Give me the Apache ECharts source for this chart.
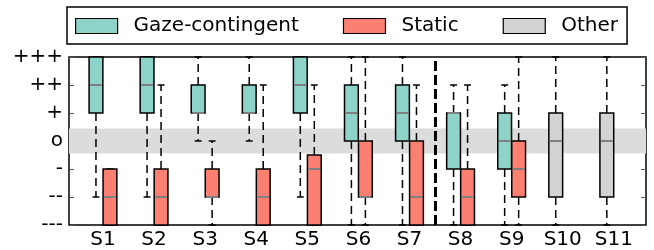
<!DOCTYPE html>
<html style="height: 100%">
<head>
    <meta charset="UTF-8">
    <title>Boxplot ratings</title>
    <script src="https://cdn.jsdelivr.net/npm/echarts@6/dist/echarts.min.js"></script>
</head>
<body style="height: 100%; margin: 0; background: #fff">
    <div id="main" style="width: 654px; height: 250px"></div>
    <script type="text/javascript">
        // categories and rating levels (-3 .. 3)
        var categories = ['S1', 'S2', 'S3', 'S4', 'S5', 'S6', 'S7', 'S8', 'S9', 'S10', 'S11'];
        var levelLabels = ['---', '--', '-', 'o', '+', '++', '+++'];

        // [x, min, q1, median, q3, max]
        var gazeStats = [
            [1, -2, 1, 2, 3, 3],
            [2, -2, 1, 2, 3, 3],
            [3, 0, 1, 1, 2, 3],
            [4, 0, 1, 1, 2, 3],
            [5, -2, 1, 2, 3, 3],
            [6, -3, 0, 1, 2, 3],
            [7, -3, 0, 1, 2, 3],
            [8, -3, -1, 1, 1, 2],
            [9, -3, -1, 0, 1, 2]
        ];
        var staticStats = [
            [1, -3, -3, -2, -1, -1],
            [2, -3, -3, -2, -1, 2],
            [3, -3, -2, -2, -1, 0],
            [4, -3, -3, -2, -1, 2],
            [5, -3, -3, -1, -0.5, 2],
            [6, -3, -2, -2, 0, 3],
            [7, -3, -3, -2, 0, 2],
            [8, -3, -3, -2, -1, 2],
            [9, -3, -2, -1, 0, 3]
        ];
        var otherStats = [
            [10, -3, -2, 0, 1, 3],
            [11, -3, -2, 0, 1, 3]
        ];

        var myChart = echarts.init(document.getElementById('main'));

        // draws one box: dashed whiskers, caps, box, median
        function makeRender(offset) {
            return function (params, api) {
                var x = api.value(0) + offset;
                var vMin = api.value(1), q1 = api.value(2), med = api.value(3),
                    q3 = api.value(4), vMax = api.value(5);
                var pLow = api.coord([x, q1]);
                var pHigh = api.coord([x, q3]);
                var pMin = api.coord([x, vMin]);
                var pMax = api.coord([x, vMax]);
                var pMed = api.coord([x, med]);
                var w = api.size([0.27, 0])[0];
                var cap = w / 4;
                var cx = pLow[0];
                var kids = [];
                var dash = { stroke: '#000', lineWidth: 1.5, lineDash: [8, 5] };
                var solid = { stroke: '#000', lineWidth: 1.5 };
                if (vMax > q3) {
                    kids.push({ type: 'line', shape: { x1: cx, y1: pHigh[1], x2: cx, y2: pMax[1] }, style: dash });
                }
                if (vMin < q1) {
                    kids.push({ type: 'line', shape: { x1: cx, y1: pLow[1], x2: cx, y2: pMin[1] }, style: dash });
                }
                kids.push({ type: 'line', shape: { x1: cx - cap, y1: pMax[1], x2: cx + cap, y2: pMax[1] }, style: solid });
                kids.push({ type: 'line', shape: { x1: cx - cap, y1: pMin[1], x2: cx + cap, y2: pMin[1] }, style: solid });
                kids.push({
                    type: 'rect',
                    shape: { x: cx - w / 2, y: pHigh[1], width: w, height: pLow[1] - pHigh[1] },
                    style: { fill: api.visual('color'), stroke: '#000', lineWidth: 1.5 }
                });
                kids.push({
                    type: 'line',
                    shape: { x1: cx - w / 2 + 1, y1: pMed[1], x2: cx + w / 2 - 1, y2: pMed[1] },
                    style: { stroke: '#808080', lineWidth: 2 }
                });
                return { type: 'group', children: kids };
            };
        }

        var font = 'DejaVu Sans';

        var option = {
            animation: false,
            backgroundColor: '#fff',
            legend: {
                data: ['Gaze-contingent', 'Static', 'Other'],
                left: 67,
                top: 7,
                padding: [9, 9, 8, 8],
                itemWidth: 42,
                itemHeight: 15,
                itemGap: 44,
                borderColor: '#000',
                borderWidth: 1.5,
                borderRadius: 0,
                icon: 'rect',
                itemStyle: { borderColor: '#000', borderWidth: 1.2 },
                textStyle: { fontSize: 20, fontFamily: font, color: '#000', padding: [0, 0, 0, 11] }
            },
            grid: {
                left: 69, right: 8, top: 57, bottom: 25,
                show: true, borderColor: '#000', borderWidth: 1.5, backgroundColor: 'transparent'
            },
            xAxis: {
                type: 'value',
                min: 0.335,
                max: 11.63,
                axisLine: { show: false },
                axisTick: { show: false },
                splitLine: { show: false },
                axisLabel: {
                    customValues: [1, 2, 3, 4, 5, 6, 7, 8, 9, 10, 11],
                    formatter: function (v) { return categories[Math.round(v) - 1]; },
                    fontSize: 20, fontFamily: font, color: '#000', margin: 5
                }
            },
            yAxis: [{
                type: 'value',
                min: -3,
                max: 3,
                interval: 1,
                axisLine: { show: false },
                axisTick: { show: true, inside: true, length: 5, lineStyle: { color: '#555' } },
                splitLine: { show: false },
                axisLabel: {
                    formatter: function (v) { return levelLabels[v + 3]; },
                    fontSize: 20, fontFamily: font, color: '#000', margin: 6
                }
            }, {
                type: 'value',
                position: 'right',
                min: -3,
                max: 3,
                interval: 1,
                axisLine: { show: false },
                axisTick: { show: true, inside: true, length: 5, lineStyle: { color: '#555' } },
                splitLine: { show: false },
                axisLabel: { show: false }
            }],
            series: [{
                name: 'band',
                type: 'line',
                data: [],
                z: 1,
                silent: true,
                markArea: {
                    silent: true,
                    itemStyle: { color: '#dcdcdc' },
                    data: [[{ yAxis: -0.45 }, { yAxis: 0.45 }]]
                }
            }, {
                name: 'Gaze-contingent',
                type: 'custom',
                z: 3,
                itemStyle: { color: '#8dd3c7' },
                renderItem: makeRender(-0.137),
                encode: { x: 0, y: [1, 2, 3, 4, 5] },
                data: gazeStats
            }, {
                name: 'Static',
                type: 'custom',
                z: 3,
                itemStyle: { color: '#fb8072' },
                renderItem: makeRender(0.137),
                encode: { x: 0, y: [1, 2, 3, 4, 5] },
                data: staticStats
            }, {
                name: 'Other',
                type: 'custom',
                z: 3,
                itemStyle: { color: '#d3d3d3' },
                renderItem: makeRender(-0.137),
                encode: { x: 0, y: [1, 2, 3, 4, 5] },
                data: otherStats
            }, {
                name: 'separator',
                type: 'line',
                data: [],
                z: 4,
                silent: true,
                markLine: {
                    silent: true,
                    symbol: 'none',
                    label: { show: false },
                    lineStyle: { color: '#000', width: 3, type: [10, 4] },
                    data: [{ xAxis: 7.5 }]
                }
            }]
        };

        myChart.setOption(option);
    </script>
</body>
</html>
